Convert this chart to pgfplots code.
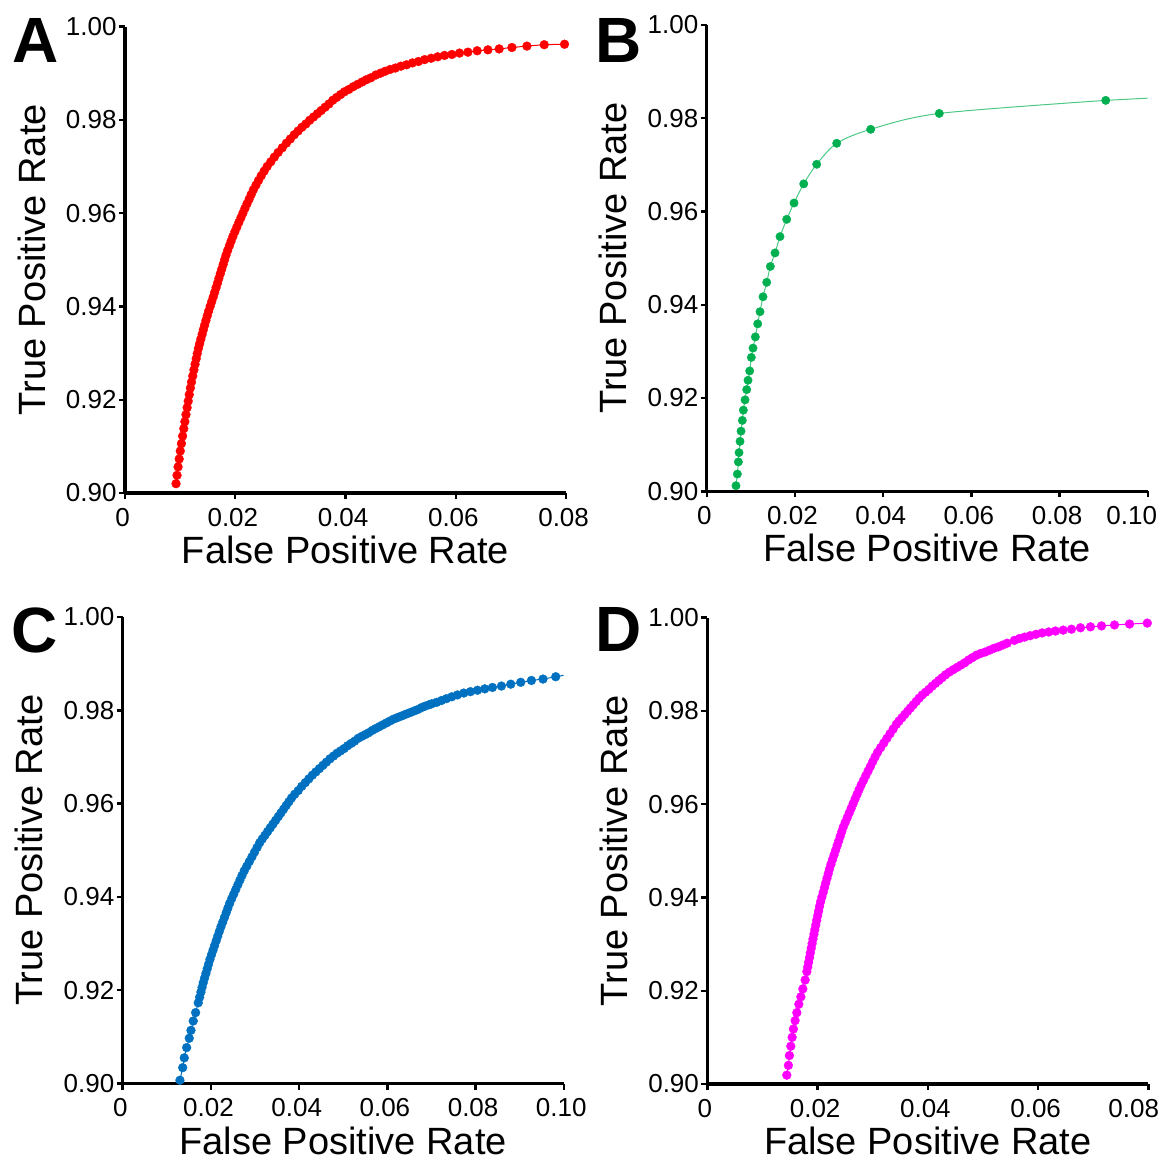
\documentclass[border=0pt]{standalone}
\usepackage{fontspec}
\setmainfont{Liberation Sans}
\usepackage{pgfplots}
\usepackage{pgfplotstable}
\pgfplotsset{compat=1.18}

\definecolor{cA}{RGB}{255,0,0}
\definecolor{cB}{RGB}{0,176,80}
\definecolor{cC}{RGB}{0,112,192}
\definecolor{cD}{RGB}{255,0,255}

\pgfplotstableread{
x y
0.00926 0.9020
0.00944 0.9038
0.00963 0.9056
0.00983 0.9073
0.01003 0.9090
0.01024 0.9106
0.01045 0.9122
0.01066 0.9138
0.01086 0.9153
0.01106 0.9168
0.01127 0.9183
0.01147 0.9197
0.01166 0.9211
0.01186 0.9225
0.01207 0.9238
0.01229 0.9251
0.01250 0.9264
0.01271 0.9276
0.01292 0.9288
0.01311 0.9299
0.01332 0.9310
0.01354 0.9320
0.01376 0.9330
0.01399 0.9340
0.01421 0.9350
0.01445 0.9360
0.01468 0.9370
0.01492 0.9380
0.01517 0.9390
0.01545 0.9400
0.01572 0.9410
0.01600 0.9420
0.01626 0.9430
0.01652 0.9440
0.01678 0.9450
0.01703 0.9460
0.01729 0.9470
0.01755 0.9480
0.01781 0.9490
0.01807 0.9500
0.01833 0.9510
0.01862 0.9520
0.01894 0.9530
0.01925 0.9540
0.01957 0.9550
0.01993 0.9560
0.02029 0.9570
0.02065 0.9580
0.02102 0.9590
0.02139 0.9600
0.02175 0.9610
0.02213 0.9620
0.02252 0.9630
0.02290 0.9640
0.02329 0.9650
0.02376 0.9660
0.02422 0.9670
0.02471 0.9680
0.02524 0.9690
0.02579 0.9700
0.02644 0.9710
0.02709 0.9720
0.02778 0.9730
0.02853 0.9740
0.02928 0.9750
0.03000 0.9759
0.03070 0.9768
0.03140 0.9776
0.03210 0.9784
0.03280 0.9791
0.03350 0.9799
0.03420 0.9806
0.03490 0.9813
0.03560 0.9820
0.03630 0.9827
0.03700 0.9834
0.03770 0.9842
0.03840 0.9848
0.03910 0.9854
0.03980 0.9860
0.04060 0.9865
0.04140 0.9871
0.04220 0.9876
0.04300 0.9881
0.04380 0.9886
0.04460 0.9890
0.04550 0.9896
0.04635 0.9900
0.04719 0.9904
0.04810 0.9908
0.04906 0.9911
0.05006 0.9915
0.05109 0.9918
0.05214 0.9922
0.05323 0.9925
0.05436 0.9929
0.05554 0.9932
0.05672 0.9935
0.05795 0.9938
0.05930 0.9940
0.06068 0.9943
0.06220 0.9945
0.06389 0.9948
0.06583 0.9950
0.06788 0.9952
0.07019 0.9955
0.07291 0.9958
0.07605 0.9961
0.07973 0.9962
}\dataA

\pgfplotstableread{
x y
0.00664 0.9012
0.00695 0.9037
0.00718 0.9063
0.00733 0.9083
0.00756 0.9107
0.00779 0.9129
0.00808 0.9152
0.00831 0.9174
0.00869 0.9196
0.00907 0.9218
0.00937 0.9238
0.00975 0.9258
0.01012 0.9287
0.01050 0.9307
0.01103 0.9331
0.01156 0.9359
0.01209 0.9385
0.01277 0.9417
0.01361 0.9448
0.01443 0.9482
0.01549 0.9511
0.01662 0.9546
0.01814 0.9583
0.01980 0.9618
0.02200 0.9659
0.02494 0.9701
0.02948 0.9746
0.03719 0.9776
0.05274 0.9810
0.09048 0.9838
}\dataB

\pgfplotstableread{
x y
0.01298 0.9007
0.01360 0.9034
0.01396 0.9055
0.01450 0.9077
0.01509 0.9097
0.01548 0.9114
0.01600 0.9134
0.01654 0.9152
0.01713 0.9173
0.01745 0.9185
0.01774 0.9196
0.01800 0.9206
0.01826 0.9216
0.01856 0.9226
0.01887 0.9236
0.01917 0.9246
0.01948 0.9256
0.01978 0.9266
0.02013 0.9276
0.02049 0.9286
0.02084 0.9296
0.02120 0.9306
0.02155 0.9316
0.02191 0.9326
0.02228 0.9336
0.02268 0.9346
0.02307 0.9356
0.02346 0.9366
0.02385 0.9376
0.02424 0.9386
0.02470 0.9396
0.02517 0.9406
0.02564 0.9416
0.02611 0.9426
0.02658 0.9436
0.02705 0.9446
0.02756 0.9456
0.02814 0.9466
0.02872 0.9476
0.02931 0.9486
0.02989 0.9496
0.03047 0.9506
0.03105 0.9516
0.03164 0.9524
0.03225 0.9532
0.03285 0.9540
0.03346 0.9548
0.03407 0.9556
0.03467 0.9564
0.03528 0.9572
0.03588 0.9580
0.03648 0.9588
0.03708 0.9596
0.03768 0.9604
0.03828 0.9612
0.03900 0.9620
0.03980 0.9628
0.04060 0.9637
0.04140 0.9645
0.04220 0.9653
0.04300 0.9661
0.04380 0.9668
0.04460 0.9675
0.04540 0.9682
0.04620 0.9689
0.04700 0.9696
0.04780 0.9702
0.04860 0.9708
0.04940 0.9713
0.05020 0.9718
0.05100 0.9724
0.05180 0.9729
0.05260 0.9734
0.05340 0.9740
0.05420 0.9744
0.05500 0.9748
0.05580 0.9752
0.05660 0.9757
0.05740 0.9761
0.05820 0.9765
0.05900 0.9769
0.05980 0.9773
0.06060 0.9777
0.06140 0.9781
0.06220 0.9784
0.06300 0.9787
0.06380 0.9790
0.06460 0.9793
0.06540 0.9796
0.06620 0.9799
0.06700 0.9802
0.06780 0.9806
0.06860 0.9809
0.06950 0.9812
0.07007 0.9814
0.07115 0.9817
0.07229 0.9821
0.07342 0.9825
0.07462 0.9829
0.07591 0.9833
0.07734 0.9837
0.07886 0.9840
0.08044 0.9843
0.08210 0.9846
0.08384 0.9849
0.08588 0.9852
0.08799 0.9856
0.09026 0.9860
0.09268 0.9864
0.09531 0.9867
0.09819 0.9872
}\dataC

\pgfplotstableread{
x y
0.01442 0.9019
0.01471 0.9040
0.01490 0.9061
0.01515 0.9081
0.01539 0.9100
0.01562 0.9118
0.01593 0.9136
0.01624 0.9153
0.01660 0.9171
0.01697 0.9187
0.01733 0.9204
0.01775 0.9223
0.01806 0.9241
0.01822 0.9251
0.01838 0.9261
0.01854 0.9271
0.01869 0.9281
0.01885 0.9291
0.01901 0.9301
0.01917 0.9311
0.01934 0.9321
0.01951 0.9331
0.01968 0.9341
0.01985 0.9351
0.02002 0.9361
0.02020 0.9371
0.02037 0.9381
0.02056 0.9391
0.02079 0.9401
0.02102 0.9411
0.02125 0.9421
0.02148 0.9431
0.02171 0.9441
0.02194 0.9451
0.02217 0.9461
0.02243 0.9471
0.02271 0.9481
0.02299 0.9491
0.02327 0.9501
0.02355 0.9511
0.02383 0.9521
0.02411 0.9531
0.02439 0.9541
0.02467 0.9551
0.02502 0.9561
0.02538 0.9571
0.02574 0.9581
0.02610 0.9591
0.02645 0.9601
0.02681 0.9611
0.02717 0.9621
0.02753 0.9631
0.02791 0.9641
0.02833 0.9651
0.02875 0.9661
0.02917 0.9671
0.02959 0.9681
0.03001 0.9691
0.03043 0.9701
0.03088 0.9711
0.03145 0.9721
0.03202 0.9731
0.03258 0.9741
0.03315 0.9751
0.03372 0.9761
0.03429 0.9771
0.03477 0.9778
0.03529 0.9785
0.03581 0.9792
0.03633 0.9799
0.03685 0.9806
0.03737 0.9813
0.03790 0.9820
0.03842 0.9827
0.03900 0.9834
0.03960 0.9840
0.04020 0.9846
0.04080 0.9853
0.04140 0.9859
0.04200 0.9865
0.04260 0.9871
0.04320 0.9877
0.04390 0.9883
0.04460 0.9888
0.04530 0.9893
0.04600 0.9898
0.04670 0.9903
0.04740 0.9909
0.04810 0.9914
0.04880 0.9919
0.04960 0.9923
0.05040 0.9926
0.05120 0.9930
0.05200 0.9934
0.05280 0.9937
0.05360 0.9941
0.05440 0.9945
0.05571 0.9951
0.05662 0.9955
0.05756 0.9958
0.05856 0.9961
0.05962 0.9964
0.06074 0.9967
0.06194 0.9969
0.06316 0.9971
0.06456 0.9973
0.06606 0.9975
0.06770 0.9978
0.06951 0.9980
0.07151 0.9982
0.07387 0.9984
0.07660 0.9986
0.07982 0.9988
}\dataD

\pgfplotsset{
  rocaxis/.style={
    scale only axis, width=220.5pt, height=233.25pt,
    axis lines=left,
    axis line style={-, line width=1.6pt, black},
    tick style={line width=1.2pt, black},
    tick align=outside,
    major tick length=3pt,
    scaled x ticks=false, scaled y ticks=false,
    ymin=0.9, ymax=1.0,
    ytick={0.90,0.92,0.94,0.96,0.98,1.00},
    yticklabels={0.90,0.92,0.94,0.96,0.98,1.00},
    ticklabel style={font=\fontsize{13}{15}\selectfont, inner sep=0pt},
    yticklabel style={anchor=east, xshift=-1pt},
    xticklabel style={anchor=base, yshift=-13.5pt, xshift=-1.2pt},
    label style={font=\fontsize{19}{22}\selectfont},
    xlabel={False Positive Rate},
    ylabel={True Positive Rate},
    xlabel style={at={(axis description cs:0.5,-0.1515)}, anchor=base, inner sep=0pt},
    ylabel style={at={(axis description cs:-0.1814,0.5)}, anchor=base, inner sep=0pt},
  },
  x08/.style={xmin=0, xmax=0.08, xtick={0,0.02,0.04,0.06,0.08},
    xticklabels={0,0.02,0.04,0.06,0.08}},
  x08last/.style={xmin=0, xmax=0.08, xtick={0,0.02,0.04,0.06},
    xticklabels={0,0.02,0.04,0.06},
    extra x ticks={0.08}, extra x tick labels={0.08},
    extra x tick style={tick style={line width=1.2pt, black}, major tick length=3pt,
      xticklabel style={xshift=-6.1pt}}},
  x10/.style={xmin=0, xmax=0.10, xtick={0,0.02,0.04,0.06,0.08,0.10},
    xticklabels={0,0.02,0.04,0.06,0.08,0.10}},
  x10last/.style={xmin=0, xmax=0.10, xtick={0,0.02,0.04,0.06,0.08},
    xticklabels={0,0.02,0.04,0.06,0.08},
    extra x ticks={0.10}, extra x tick labels={0.10},
    extra x tick style={tick style={line width=1.2pt, black}, major tick length=3pt,
      xticklabel style={xshift=-6.8pt}}},
  dots/.style={mark=*, mark size=2.2pt, mark options={solid, fill=#1, draw=#1, line width=0.2pt}, color=#1, line width=0.5pt},
}

\begin{document}
\begin{tikzpicture}
\path[use as bounding box] (0,0) rectangle (583.5pt,-581pt);

\begin{axis}[rocaxis, x08, at={(62.5pt,-246.5pt)}, anchor=south west]
\addplot[dots=cA] table {\dataA};
\end{axis}

\begin{axis}[rocaxis, x10last, at={(353.35pt,-245.65pt)}, anchor=south west]
\addplot[cB!70, line width=0.5pt, smooth, tension=0.5] table {\dataB};
\addplot[cB!70, line width=0.5pt] coordinates {(0.09048,0.9838) (0.1005,0.9843)};
\addplot[only marks, mark=*, mark size=2.1pt, mark options={fill=cB, draw=cB, line width=0.2pt}] table {\dataB};
\end{axis}

\begin{axis}[rocaxis, x10, at={(61.35pt,-541.75pt)}, anchor=south west]
\addplot[dots=cC] table {\dataC};
\addplot[cC, line width=0.5pt] coordinates {(0.09819,0.9872) (0.1006,0.9876)};
\end{axis}

\begin{axis}[rocaxis, x08last, at={(353.65pt,-542pt)}, anchor=south west]
\addplot[dots=cD] table {\dataD};
\end{axis}

\node[font=\bfseries\fontsize{32}{32}\selectfont, inner sep=0pt] at (17.75pt,-20.4pt) {A};
\node[font=\bfseries\fontsize{32}{32}\selectfont, inner sep=0pt] at (309.5pt,-20.25pt) {B};
\node[font=\bfseries\fontsize{32}{32}\selectfont, inner sep=0pt] at (17.25pt,-315pt) {C};
\node[font=\bfseries\fontsize{32}{32}\selectfont, inner sep=0pt] at (309.5pt,-314.5pt) {D};
\end{tikzpicture}
\end{document}
